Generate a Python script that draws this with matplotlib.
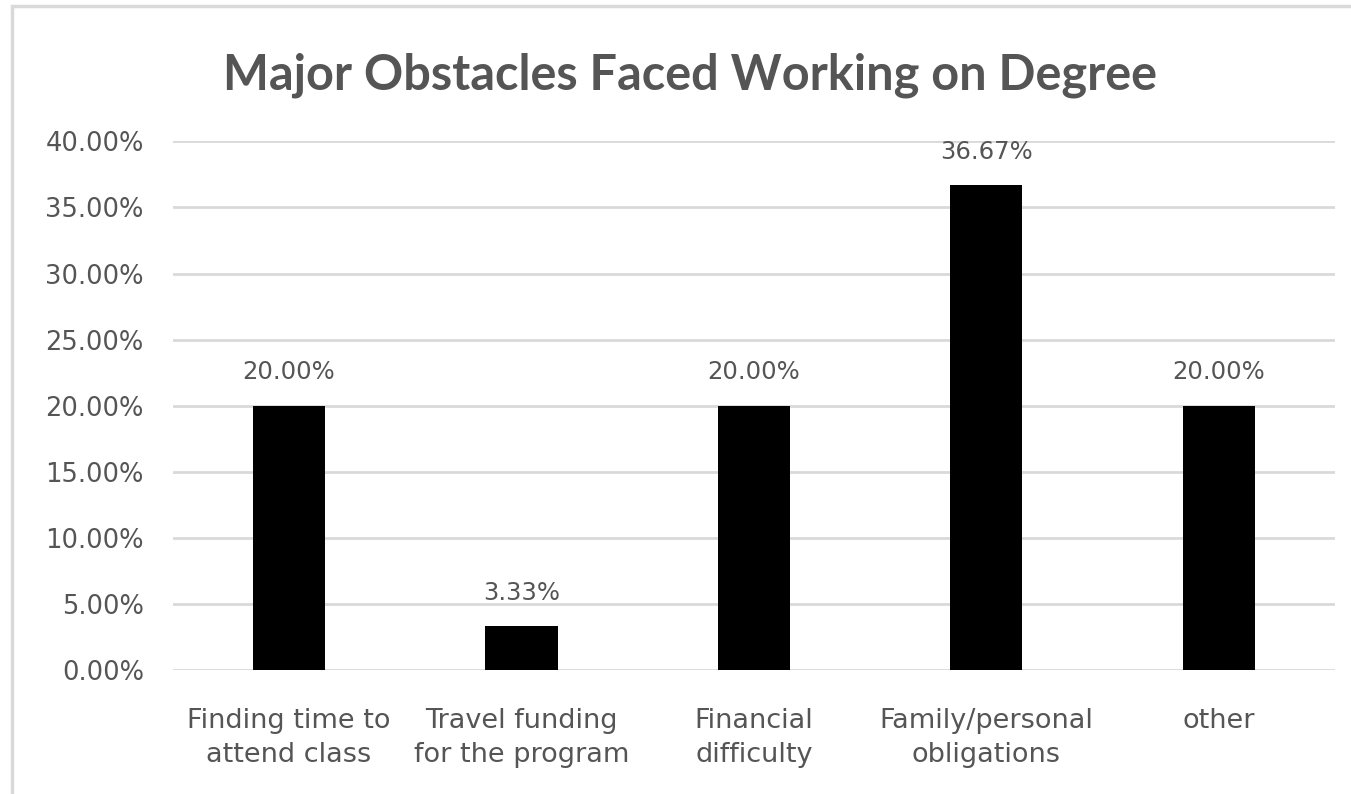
import matplotlib
matplotlib.use("Agg")
import matplotlib.pyplot as plt
from matplotlib.patches import Rectangle
from matplotlib.ticker import FuncFormatter

# Data
categories = ["Finding time to\nattend class", "Travel funding\nfor the program", "Financial\ndifficulty",
              "Family/personal\nobligations", "other"]
values = [20.00, 3.33, 20.00, 36.67, 20.00]
bar_labels = ["20.00%", "3.33%", "20.00%", "36.67%", "20.00%"]
yticks = [0, 5, 10, 15, 20, 25, 30, 35, 40]

plt.rcParams["font.family"] = ["DejaVu Sans"]
text_color = "#555555"
grid_color = "#d9d9d9"

fig = plt.figure(figsize=(13.51, 7.94), dpi=100)
ax = fig.add_axes([0.128, 0.156, 0.860, 0.666])

x = range(len(categories))
ax.bar(x, values, width=0.31, color="black", zorder=3)
for xi, v, lab in zip(x, values, bar_labels):
    ax.annotate(lab, (xi, v), xytext=(0, 24), textcoords="offset points",
                ha="center", va="center", fontsize=17.5, color=text_color)

ax.set_xlim(-0.5, len(categories) - 0.5)
ax.set_ylim(0, 40)
ax.set_yticks(yticks)
ax.yaxis.set_major_formatter(FuncFormatter(lambda v, p: f"{v:.2f}%"))
ax.set_xticks(list(x))
ax.set_xticklabels(categories, fontsize=19.5, color=text_color, linespacing=1.4)
ax.tick_params(axis="y", labelsize=18.5, labelcolor=text_color, length=0, pad=21)
ax.tick_params(axis="x", length=0, pad=27)
ax.grid(axis="y", color=grid_color, linewidth=2, zorder=0)
for s in ax.spines.values():
    s.set_visible(False)

fig.text(0.511, 0.905, "Major Obstacles Faced Working on Degree", ha="center", va="center",
         fontsize=35, fontweight="bold", color=text_color, family=["Lato", "DejaVu Sans"])

# chart frame
fig.patches.append(Rectangle((12 / 1351, -0.1), 1.2, 1 - 6 / 794 + 0.1, transform=fig.transFigure,
                             fill=False, edgecolor=grid_color, linewidth=2.5))

fig.savefig("out.png", dpi=100, facecolor="white")
